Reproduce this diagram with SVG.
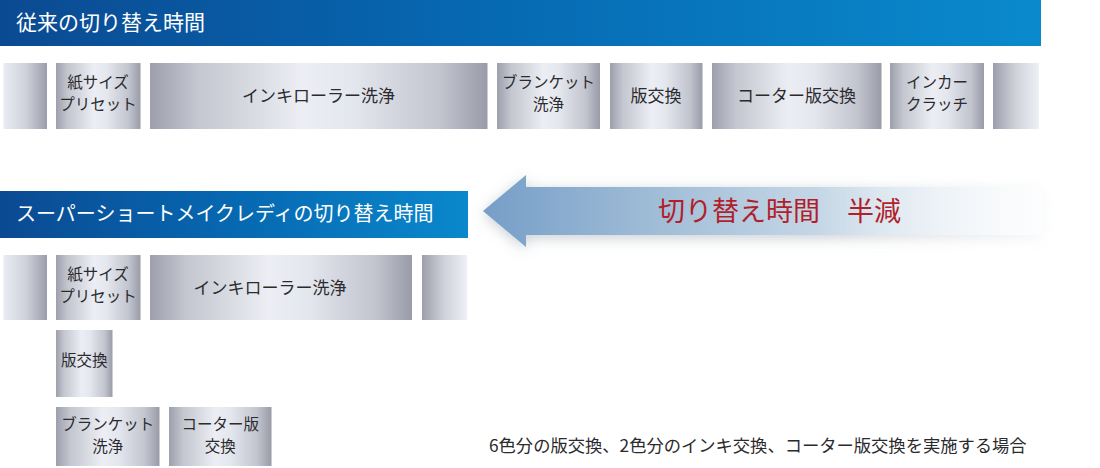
<svg xmlns="http://www.w3.org/2000/svg" width="1100" height="468" viewBox="0 0 1100 468">
  <defs>
    <linearGradient id="banner" x1="0" y1="0" x2="1" y2="0">
      <stop offset="0" stop-color="#0b4a92"/>
      <stop offset="0.45" stop-color="#0668b1"/>
      <stop offset="1" stop-color="#0a8acd"/>
    </linearGradient>
    <linearGradient id="banner2" x1="0" y1="0" x2="1" y2="0">
      <stop offset="0" stop-color="#0b4a92"/>
      <stop offset="0.5" stop-color="#0668b1"/>
      <stop offset="1" stop-color="#0a88cc"/>
    </linearGradient>
    <linearGradient id="metal" x1="0" y1="0" x2="1" y2="0">
      <stop offset="0" stop-color="#9da0ac"/>
      <stop offset="0.14" stop-color="#c4c6d0"/>
      <stop offset="0.45" stop-color="#eceef4"/>
      <stop offset="0.6" stop-color="#e5e7ef"/>
      <stop offset="0.86" stop-color="#c2c4ce"/>
      <stop offset="1" stop-color="#999ca8"/>
    </linearGradient>
    <linearGradient id="metalR" x1="0" y1="0" x2="1" y2="0">
      <stop offset="0" stop-color="#eaecf3"/>
      <stop offset="0.5" stop-color="#d0d2db"/>
      <stop offset="1" stop-color="#9c9fab"/>
    </linearGradient>
    <linearGradient id="metalL" x1="0" y1="0" x2="1" y2="0">
      <stop offset="0" stop-color="#9c9fab"/>
      <stop offset="0.5" stop-color="#d0d2db"/>
      <stop offset="1" stop-color="#eef0f6"/>
    </linearGradient>
    <linearGradient id="arrowFill" gradientUnits="userSpaceOnUse" x1="483" y1="0" x2="1045" y2="0">
      <stop offset="0" stop-color="#769ec8"/>
      <stop offset="0.35" stop-color="#a6c1d9"/>
      <stop offset="0.75" stop-color="#d8e4ee"/>
      <stop offset="1" stop-color="#f2f6f9"/>
    </linearGradient>
    <linearGradient id="fadeGrad" gradientUnits="userSpaceOnUse" x1="820" y1="0" x2="1060" y2="0">
      <stop offset="0" stop-color="#fff"/>
      <stop offset="1" stop-color="#fff" stop-opacity="0.12"/>
    </linearGradient>
    <mask id="fade" maskUnits="userSpaceOnUse" x="440" y="140" width="660" height="150">
      <rect x="440" y="140" width="660" height="150" fill="url(#fadeGrad)"/>
    </mask>
    <filter id="glow" x="-10%" y="-60%" width="120%" height="220%">
      <feGaussianBlur in="SourceAlpha" stdDeviation="7"/>
      <feOffset dy="3" result="b"/>
      <feFlood flood-color="#7f8c99" flood-opacity="0.42"/>
      <feComposite in2="b" operator="in" result="s"/>
      <feMerge>
        <feMergeNode in="s"/>
        <feMergeNode in="SourceGraphic"/>
      </feMerge>
    </filter>
    <style>
      .title { font-family: "Noto Sans CJK JP", "Noto Sans", sans-serif; fill: #ffffff; }
      .lbl { font-family: "Noto Sans CJK JP", "Noto Sans", sans-serif; fill: #2b2b2e; text-anchor: middle; }
      .l1 { font-size: 17px; }
      .l2 { font-size: 15.5px; }
      .box { fill: url(#metal); }
      .boxR { fill: url(#metalR); }
      .boxL { fill: url(#metalL); }
      .red { font-family: "Noto Sans CJK JP", "Noto Sans", sans-serif; font-size: 27px; fill: #b01f2b; }
      .note { font-family: "Noto Sans CJK JP", "Noto Sans", sans-serif; font-size: 17.3px; fill: #2b2b2e; }
    </style>
  </defs>

  <rect width="1100" height="468" fill="#ffffff"/>

  <!-- Banner 1 -->
  <g id="banner-conventional">
    <rect x="0" y="0" width="1041" height="46" fill="url(#banner)"/>
    <text class="title" x="16" y="30" font-size="21">従来の切り替え時間</text>
  </g>

  <!-- Row 1 -->
  <g id="r1-prev"><rect class="boxR" x="3.5" y="63" width="43.5" height="66"/></g>
  <g id="r1-paper">
    <rect class="box" x="56" y="63" width="84.5" height="66"/>
    <text class="lbl l2" x="98" y="88">紙サイズ</text>
    <text class="lbl l2" x="98" y="110">プリセット</text>
  </g>
  <g id="r1-ink">
    <rect class="box" x="150" y="63" width="337.5" height="66"/>
    <text class="lbl l1" x="318.5" y="102">インキローラー洗浄</text>
  </g>
  <g id="r1-blanket">
    <rect class="box" x="497" y="63" width="103" height="66"/>
    <text class="lbl l2" x="548.5" y="88">ブランケット</text>
    <text class="lbl l2" x="548.5" y="110">洗浄</text>
  </g>
  <g id="r1-plate">
    <rect class="box" x="610" y="63" width="92.5" height="66"/>
    <text class="lbl l1" x="656" y="102">版交換</text>
  </g>
  <g id="r1-coater">
    <rect class="box" x="712" y="63" width="169.5" height="66"/>
    <text class="lbl l1" x="796.5" y="102">コーター版交換</text>
  </g>
  <g id="r1-inker">
    <rect class="box" x="890" y="63" width="94" height="66"/>
    <text class="lbl l2" x="937" y="88">インカー</text>
    <text class="lbl l2" x="937" y="110">クラッチ</text>
  </g>
  <g id="r1-next"><rect class="boxL" x="993" y="63" width="46" height="66"/></g>

  <!-- Arrow -->
  <g id="arrow-halved">
    <g mask="url(#fade)">
      <g filter="url(#glow)">
        <polygon points="483,211 526,175 526,187 1042,187 1042,235 526,235 526,247" fill="url(#arrowFill)"/>
      </g>
    </g>
    <text class="red" x="658" y="221">切り替え時間　半減</text>
  </g>

  <!-- Banner 2 -->
  <g id="banner-smr">
    <rect x="0" y="191" width="468" height="47" fill="url(#banner2)"/>
    <text class="title" x="16" y="221" font-size="20">スーパーショートメイクレディの切り替え時間</text>
  </g>

  <!-- Row 2 -->
  <g id="r2-prev"><rect class="boxR" x="3.5" y="255" width="43.5" height="65"/></g>
  <g id="r2-paper">
    <rect class="box" x="56" y="255" width="84.5" height="65"/>
    <text class="lbl l2" x="98" y="280">紙サイズ</text>
    <text class="lbl l2" x="98" y="302">プリセット</text>
  </g>
  <g id="r2-ink">
    <rect class="box" x="150" y="255" width="262" height="65"/>
    <text class="lbl l1" x="270" y="294">インキローラー洗浄</text>
  </g>
  <g id="r2-next"><rect class="boxL" x="422" y="255" width="45" height="65"/></g>

  <!-- Row 3 -->
  <g id="r3-plate">
    <rect class="box" x="56" y="330" width="56.5" height="67"/>
    <text class="lbl l2" x="84.2" y="366">版交換</text>
  </g>

  <!-- Row 4 -->
  <g id="r4-blanket">
    <rect class="box" x="56" y="407" width="103.5" height="59"/>
    <text class="lbl l2" x="107.7" y="430">ブランケット</text>
    <text class="lbl l2" x="107.7" y="452">洗浄</text>
  </g>
  <g id="r4-coater">
    <rect class="box" x="169" y="407" width="102.5" height="59"/>
    <text class="lbl l2" x="220.2" y="430">コーター版</text>
    <text class="lbl l2" x="220.2" y="452">交換</text>
  </g>

  <g id="connectors"/>

  <text class="note" x="489" y="452">6色分の版交換、2色分のインキ交換、コーター版交換を実施する場合</text>
</svg>
